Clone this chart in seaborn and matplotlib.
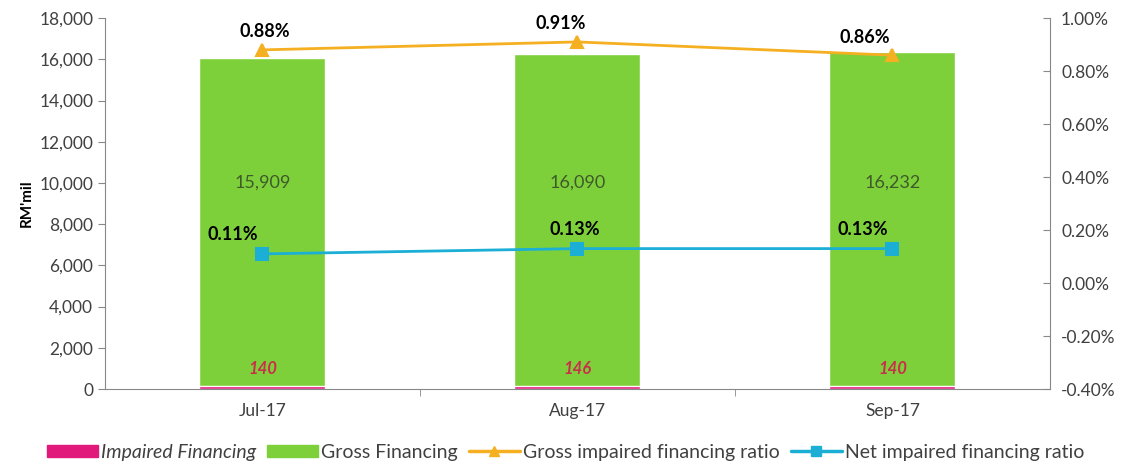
import matplotlib
matplotlib.use("Agg")
import matplotlib.pyplot as plt
import seaborn as sns
import pandas as pd
from matplotlib.patches import Patch
from matplotlib.lines import Line2D
from matplotlib.ticker import FuncFormatter, FixedLocator

months = ["Jul-17", "Aug-17", "Sep-17"]
impaired = [140, 146, 140]
gross = [15909, 16090, 16232]
gross_ratio = [0.88, 0.91, 0.86]
net_ratio = [0.11, 0.13, 0.13]

# label nudges (points) so they sit like in the original
gross_dx = [2, -12, -20]
net_dx = [-21, -2, -21]

GREEN = "#7ED03B"
PINK = "#E0197A"
ORANGE = "#F5B022"
BLUE = "#1BAFD6"
GREY = "#404040"

sns.set_style("white")
plt.rcParams["font.family"] = ["Lato", "DejaVu Sans"]

df = pd.DataFrame({"month": months, "impaired": impaired, "gross": gross,
                   "gross_ratio": gross_ratio, "net_ratio": net_ratio})
df["total"] = df["impaired"] + df["gross"]

fig = plt.figure(figsize=(11.31, 4.65), dpi=100)
ax = fig.add_axes([0.0928, 0.1634, 0.8355, 0.7977])

sns.barplot(data=df, x="month", y="total", color=GREEN, width=0.4,
            saturation=1, ax=ax)
sns.barplot(data=df, x="month", y="impaired", color=PINK, width=0.4,
            saturation=1, ax=ax)

ax.set_ylim(0, 18000)
ax.set_xlim(-0.5, 2.5)
ax.set_yticks(range(0, 18001, 2000))
ax.yaxis.set_major_formatter(FuncFormatter(lambda v, p: f"{int(v):,}"))
ax.set_xlabel("")
ax.set_ylabel("RM'mil", fontsize=11, fontweight="bold", color="black")
ax.tick_params(axis="y", direction="out", length=5, color="#888888",
               labelsize=12.5, labelcolor=GREY, left=True)
ax.tick_params(axis="x", length=0, labelsize=12.5, labelcolor=GREY, pad=10)
ax.xaxis.set_minor_locator(FixedLocator([0.5, 1.5]))
ax.tick_params(axis="x", which="minor", direction="out", length=5,
               color="#888888", bottom=True)
for s in ["left", "bottom"]:
    ax.spines[s].set_color("#888888")
ax.spines["top"].set_visible(False)
ax.spines["right"].set_visible(False)

for i in range(len(months)):
    ax.text(i, 10000, f"{gross[i]:,}", ha="center", va="center",
            fontsize=13, color="#3F5A2A")
    ax.text(i, 950, f"{impaired[i]}", ha="center", va="center",
            fontsize=12, color="#C8304A", fontweight="bold", style="italic")

ax2 = ax.twinx()
sns.pointplot(data=df, x="month", y="gross_ratio", color=ORANGE,
              markers="^", markersize=8, linewidth=2, ax=ax2)
sns.pointplot(data=df, x="month", y="net_ratio", color=BLUE,
              markers="s", markersize=8, linewidth=2, ax=ax2)
ax2.set_xlim(-0.5, 2.5)
ax2.set_ylim(-0.4, 1.0)
ax2.set_yticks([-0.4, -0.2, 0, 0.2, 0.4, 0.6, 0.8, 1.0])
ax2.yaxis.set_major_formatter(FuncFormatter(lambda v, p: f"{v:.2f}%"))
ax2.set_ylabel("")
ax2.tick_params(axis="y", direction="in", length=5, color="#888888",
                labelsize=12.5, labelcolor=GREY, right=True, pad=8)
ax2.spines["right"].set_color("#888888")
for s in ["top", "left", "bottom"]:
    ax2.spines[s].set_visible(False)

for i in range(len(months)):
    ax2.annotate(f"{gross_ratio[i]:.2f}%", (i, gross_ratio[i]),
                 xytext=(gross_dx[i], 9), textcoords="offset points",
                 ha="center", fontsize=13, fontweight="bold", color="black")
    ax2.annotate(f"{net_ratio[i]:.2f}%", (i, net_ratio[i]),
                 xytext=(net_dx[i], 10), textcoords="offset points",
                 ha="center", fontsize=13, fontweight="bold", color="black")

handles = [
    Patch(color=PINK, label="Impaired Financing"),
    Patch(color=GREEN, label="Gross Financing"),
    Line2D([], [], color=ORANGE, marker="^", lw=2.5, ms=7,
           label="Gross impaired financing ratio"),
    Line2D([], [], color=BLUE, marker="s", lw=2.5, ms=7,
           label="Net impaired financing ratio"),
]
leg = fig.legend(handles=handles, loc="center", bbox_to_anchor=(0.5, 0.027),
                 ncol=4, frameon=False, fontsize=14, handlelength=2.6,
                 handleheight=0.6, handletextpad=0.15, columnspacing=0.6)
for t in leg.get_texts():
    t.set_color(GREY)
leg.get_texts()[0].set_style("italic")

fig.savefig("out.png", dpi=100)
